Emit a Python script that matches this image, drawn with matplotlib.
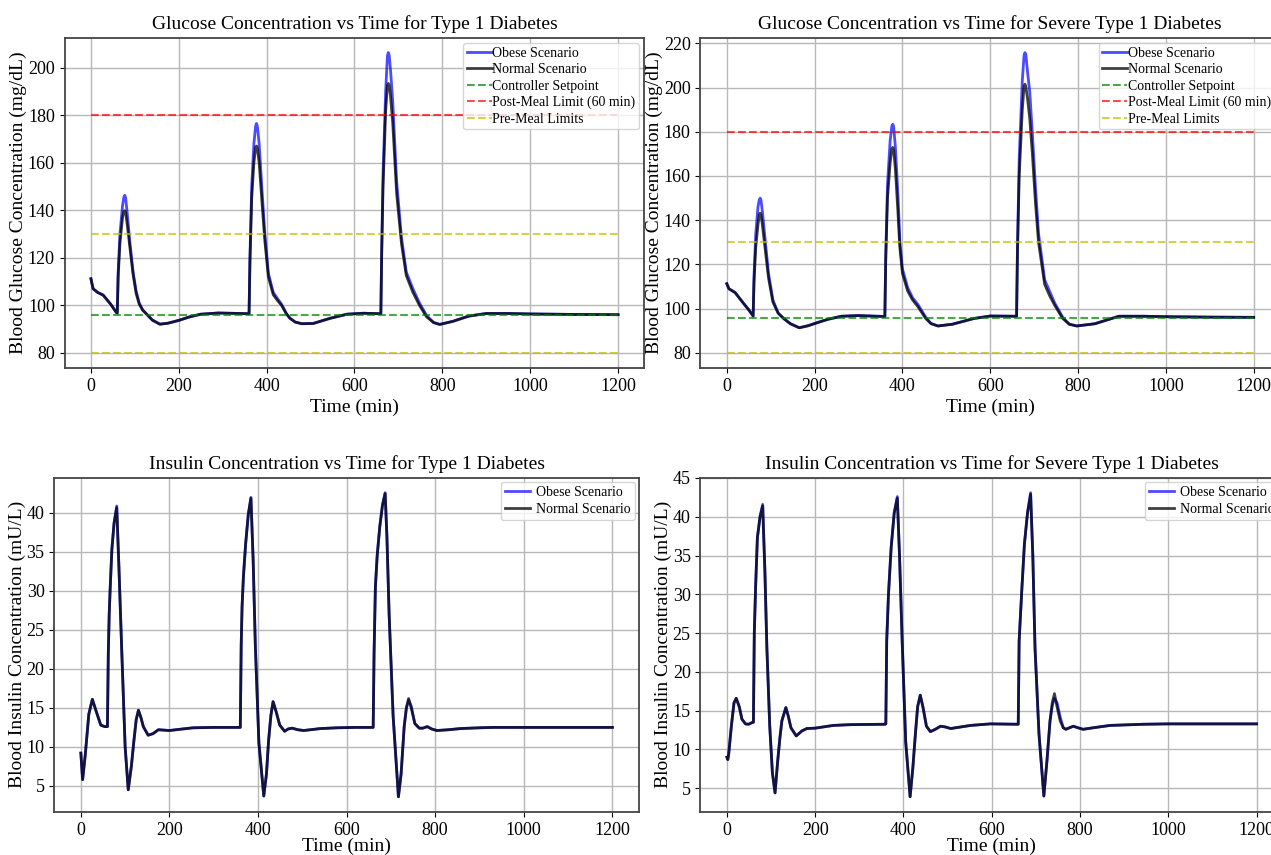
import matplotlib
matplotlib.use("Agg")
import matplotlib.pyplot as plt

# DATA ----------------------------------------------------------------------- #
SETPOINT = 96
POST_MEAL_LIMIT = 180
PRE_MEAL_LIMITS = [80, 130]

# glucose, type 1
t_glu_t1 = [0, 5, 15, 28, 45, 58, 60, 62, 66, 72, 75, 77, 79, 82, 89, 96, 103, 110, 118, 127, 140,
            157, 175, 200, 225, 250, 290, 340, 360, 362, 366, 371, 375, 377, 379, 383, 390, 396,
            404, 415, 425, 434, 445, 453, 465, 480, 506, 545, 583, 620, 660, 662, 665, 671, 675,
            677, 679, 682, 687, 696, 707, 718, 733, 748, 764, 780, 794, 824, 860, 900, 950, 1000,
            1100, 1200]
glu_t1_normal = [111.2, 107, 105.5, 104.3, 100.5, 97, 96.8, 112, 126, 137, 139.5, 139.8, 139, 135,
                 124, 113, 105, 100.5, 98, 96.3, 93.8, 92.1, 92.5, 93.7, 95.2, 96.3, 96.8, 96.6,
                 96.5, 118, 145, 160, 166.5, 167, 166, 160, 142, 127, 112, 104.5, 102, 100, 96.5,
                 94.6, 93, 92.3, 92.4, 94.6, 96.3, 96.7, 96.5, 122, 150, 182, 192.5, 193.3, 192.5,
                 188, 177, 147, 126, 112.5, 105.5, 100, 95.2, 92.8, 92, 93.3, 95.5, 96.6, 96.6,
                 96.4, 96.2, 96.1]
glu_t1_obese_peaks = {62: 114, 66: 130, 72: 142, 75: 145.5, 77: 146.3, 79: 145.2, 82: 140, 89: 126,
                      96: 114, 103: 106, 110: 101, 362: 120, 366: 150, 371: 168, 375: 175.5,
                      377: 176.5, 379: 175.2, 383: 168, 390: 147, 396: 130, 404: 113.5, 415: 105.5,
                      425: 102.8, 434: 100.5, 662: 124, 665: 155, 671: 190, 675: 205, 677: 206.3,
                      679: 205.2, 682: 199, 687: 186, 696: 152, 707: 128.5, 718: 114, 733: 107,
                      748: 101, 764: 95.8}

# glucose, severe type 1
t_glu_sev = [0, 5, 19, 37, 50, 60, 62, 66, 71, 74, 76, 78, 81, 88, 95, 105, 117, 130, 145, 165,
             185, 206, 230, 261, 300, 342, 360, 362, 366, 372, 376, 378, 380, 384, 390, 394, 400,
             412, 423, 435, 453, 465, 481, 514, 563, 600, 660, 662, 666, 673, 677, 679, 681, 685,
             690, 696, 703, 710, 724, 735, 747, 765, 780, 797, 838, 893, 950, 1000, 1100, 1200]
glu_sev_normal = [111.3, 109, 107.3, 102.7, 99.5, 96.7, 112, 128, 138, 142.6, 143.2, 142.4, 138,
                  126, 114, 103, 98, 95.5, 93.2, 91.4, 92.3, 93.7, 95.2, 96.6, 96.9, 96.6, 96.5,
                  122, 150, 166, 172.3, 172.9, 172, 163, 143, 128, 116, 108, 104, 101, 95.6, 93.3,
                  92.2, 93, 95.6, 96.7, 96.6, 125, 160, 190, 200.6, 201.5, 200.5, 195, 186, 170,
                  148, 130, 111, 106, 101.5, 95.6, 93, 92.2, 93.2, 96.6, 96.6, 96.4, 96.2, 96.1]
glu_sev_obese_peaks = {62: 115, 66: 134, 71: 146, 74: 149.3, 76: 150, 78: 149, 81: 144, 88: 130,
                       95: 116, 105: 104, 362: 124, 366: 156, 372: 176, 376: 182.6, 378: 183.4,
                       380: 182.4, 384: 173, 390: 151, 394: 131, 400: 118, 412: 109.5, 423: 105,
                       435: 102, 453: 96.2, 662: 128, 666: 168, 673: 203, 677: 214.5, 679: 215.8,
                       681: 215, 685: 207, 690: 198, 696: 179, 703: 155, 710: 134, 724: 113,
                       735: 108, 747: 102.5, 765: 96.2}

# insulin, type 1
t_ins_t1 = [0, 4, 10, 18, 26, 35, 45, 54, 60, 62, 64, 66, 70, 75, 81, 86, 92, 100, 107, 114, 120,
            125, 130, 136, 141, 152, 163, 175, 200, 230, 254, 300, 360, 362, 364, 367, 372, 378,
            384, 389, 394, 402, 413, 419, 424, 429, 434, 441, 449, 460, 468, 477, 490, 503, 541,
            579, 620, 660, 662, 665, 669, 675, 681, 687, 691, 696, 705, 717, 723, 730, 735, 740,
            746, 754, 764, 772, 782, 792, 804, 830, 857, 900, 932, 1000, 1100, 1200]
ins_t1_normal = [9.2, 5.8, 9, 14.2, 16.1, 14.5, 12.8, 12.6, 12.6, 22, 27, 30, 35.3, 38.7, 40.7, 33,
                 22.9, 10, 4.5, 7.5, 10.9, 13.5, 14.7, 13.7, 12.6, 11.5, 11.7, 12.2, 12.1, 12.3,
                 12.45, 12.5, 12.5, 23, 28, 31.8, 36, 39.8, 41.9, 34, 22.9, 10.5, 3.7, 6.5, 10.9,
                 14, 15.8, 14.5, 12.8, 12, 12.3, 12.4, 12.2, 12.1, 12.35, 12.45, 12.5, 12.5, 22,
                 30.5, 34.5, 38.3, 41, 42.5, 37, 27, 14, 3.6, 6.5, 12.6, 15, 16.2, 15, 13, 12.4,
                 12.4, 12.6, 12.3, 12.1, 12.2, 12.35, 12.45, 12.5, 12.5, 12.5, 12.5]
ins_t1_obese_peaks = {81: 40.9, 384: 42.0, 687: 42.6, 740: 16.0, 746: 15.2}

# insulin, severe type 1
t_ins_sev = [0, 2, 4, 10, 16, 21, 28, 34, 42, 49, 58, 60, 62, 65, 69, 75, 81, 86, 90.5, 97, 103,
             109, 115, 120, 124.5, 133.5, 139, 145, 157, 170, 181, 200, 241, 279, 358, 360, 362,
             366, 372, 379, 386, 391, 397, 405, 415, 421, 427, 432, 438, 444, 452, 461, 472, 484,
             495, 507, 552, 597, 660, 662, 668, 674, 681, 688, 693, 698, 707, 718, 725, 732, 737,
             742, 748, 755, 762, 768, 776, 785, 795, 807, 830, 868, 943, 1000, 1100, 1200]
ins_sev_normal = [9.0, 8.7, 9.4, 13, 16, 16.6, 15.5, 13.9, 13.3, 13.25, 13.5, 13.5, 25, 31, 37.3,
                  40, 41.4, 33, 23.1, 13, 7, 4.4, 8.5, 11.5, 13.7, 15.4, 14.3, 12.8, 11.75, 12.4,
                  12.7, 12.75, 13.1, 13.2, 13.25, 13.3, 24, 30, 36, 40.5, 42.4, 35, 24, 11, 3.9,
                  7.5, 12, 15.5, 17.0, 15.5, 13, 12.3, 12.6, 13.0, 12.9, 12.7, 13.1, 13.3, 13.25,
                  24, 30.5, 36.5, 40.5, 42.9, 35, 23.1, 12, 4.0, 8.5, 13.7, 16, 17.2, 15.5, 13.7,
                  12.8, 12.6, 12.8, 13.0, 12.8, 12.6, 12.8, 13.1, 13.25, 13.3, 13.3, 13.3]
ins_sev_obese_peaks = {81: 41.6, 386: 42.6, 688: 43.1, 737: 15.6, 742: 16.6, 748: 16.0,
                       755: 14.2}

TITLES = [
    "Glucose Concentration vs Time for Type 1 Diabetes",
    "Glucose Concentration vs Time for Severe Type 1 Diabetes",
    "Insulin Concentration vs Time for Type 1 Diabetes",
    "Insulin Concentration vs Time for Severe Type 1 Diabetes",
]
GLU_YLABEL = "Blood Glucose Concentration (mg/dL)"
INS_YLABEL = "Blood Insulin Concentration (mU/L)"
XLABEL = "Time (min)"

# STYLE ---------------------------------------------------------------------- #
plt.rcParams["font.family"] = ["Liberation Serif", "DejaVu Serif"]
plt.rcParams["axes.edgecolor"] = "#444444"
plt.rcParams["axes.linewidth"] = 1.3


def with_peaks(t, normal, peaks):
    return [peaks.get(x, v) for x, v in zip(t, normal)]


def style_axes(ax, title, ylabel, xlabel_pad):
    ax.set_title(title, fontsize=14)
    ax.set_xlabel(XLABEL, fontsize=14, labelpad=xlabel_pad)
    ax.set_ylabel(ylabel, fontsize=14, labelpad=0.5)
    ax.tick_params(labelsize=13)
    ax.grid(True, color="#b8b8b8", linewidth=1.0)
    ax.set_axisbelow(True)


def plot_glucose(ax, t, normal, peaks, title):
    ax.plot(t, with_peaks(t, normal, peaks), color="blue", alpha=0.7, lw=2, label="Obese Scenario")
    ax.plot(t, normal, color="black", alpha=0.75, lw=2, label="Normal Scenario")
    ax.hlines(SETPOINT, t[0], t[-1], colors="green", alpha=0.7, linestyles="--", lw=1.5,
              label="Controller Setpoint")
    ax.hlines(POST_MEAL_LIMIT, t[0], t[-1], colors="red", alpha=0.7, linestyles="--", lw=1.5,
              label="Post-Meal Limit (60 min)")
    ax.hlines(PRE_MEAL_LIMITS, t[0], t[-1], colors="y", alpha=0.7, linestyles="--", lw=1.5,
              label="Pre-Meal Limits")
    style_axes(ax, title, GLU_YLABEL, 3)
    ax.legend(loc="upper right", fontsize=10, handlelength=1.8, handletextpad=0.05,
              labelspacing=0.25, borderpad=0.25, borderaxespad=0.4)


def plot_insulin(ax, t, normal, peaks, title):
    ax.plot(t, with_peaks(t, normal, peaks), color="blue", alpha=0.7, lw=2, label="Obese Scenario")
    ax.plot(t, normal, color="black", alpha=0.75, lw=2, label="Normal Scenario")
    style_axes(ax, title, INS_YLABEL, -1)
    ax.legend(loc="upper right", fontsize=10, handlelength=1.8, handletextpad=0.45,
              labelspacing=0.3, borderpad=0.3, borderaxespad=0.3)


# MAIN ----------------------------------------------------------------------- #
fig = plt.figure(figsize=(12.71, 8.55), dpi=100)
ax_tl = fig.add_axes([0.0508, 0.5696, 0.4562, 0.3865])
ax_tr = fig.add_axes([0.5511, 0.5696, 0.4560, 0.3865])
ax_bl = fig.add_axes([0.0427, 0.0503, 0.4600, 0.3912])
ax_br = fig.add_axes([0.5511, 0.0503, 0.4584, 0.3912])

plot_glucose(ax_tl, t_glu_t1, glu_t1_normal, glu_t1_obese_peaks, TITLES[0])
plot_glucose(ax_tr, t_glu_sev, glu_sev_normal, glu_sev_obese_peaks, TITLES[1])
plot_insulin(ax_bl, t_ins_t1, ins_t1_normal, ins_t1_obese_peaks, TITLES[2])
plot_insulin(ax_br, t_ins_sev, ins_sev_normal, ins_sev_obese_peaks, TITLES[3])

fig.savefig("out.png", dpi=100)
